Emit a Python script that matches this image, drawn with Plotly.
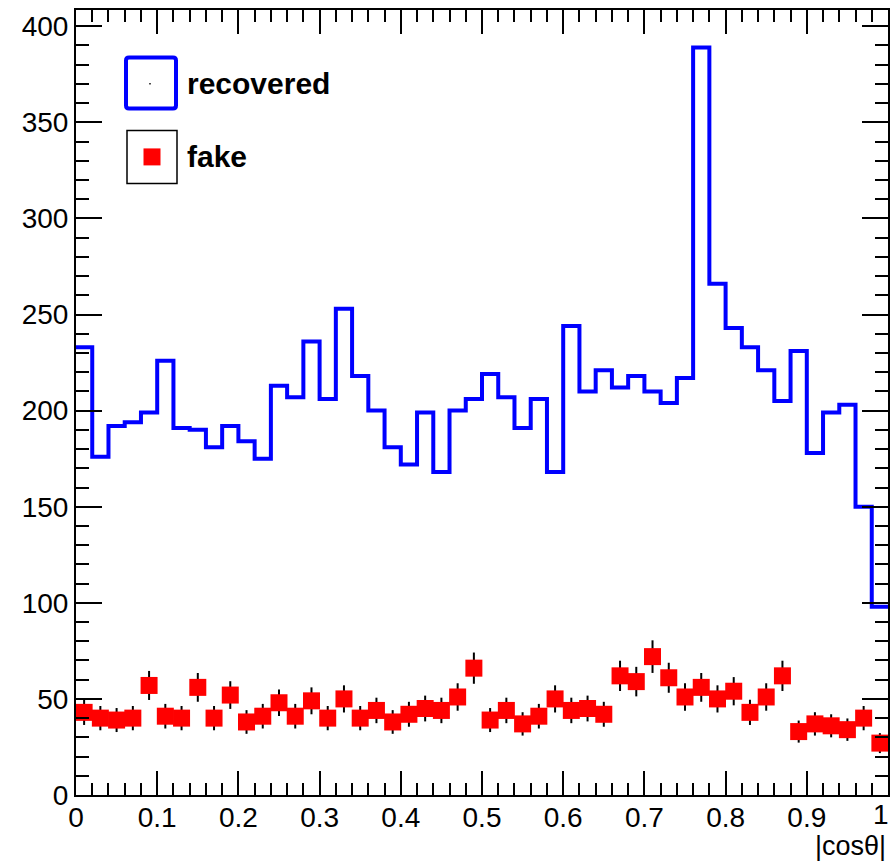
import numpy as np
import plotly.graph_objects as go

# 50 bins from 0 to 1
bin_lo = 0.0
bin_hi = 1.0
n_bins = 50

recovered = [233, 176, 192, 194, 199, 226, 191, 190, 181, 192,
             184, 175, 213, 207, 236, 206, 253, 218, 200, 181,
             172, 199, 168, 200, 206, 219, 207, 191, 206, 168,
             244, 210, 221, 212, 218, 210, 204, 217, 389, 266,
             243, 233, 221, 205, 231, 178, 199, 203, 150, 98]

fake = [43, 40, 39, 40, 57, 41, 40, 56, 40, 52,
        38, 41, 48, 41, 49, 40, 50, 40, 44, 38,
        42, 45, 44, 51, 66, 39, 44, 37, 41, 50,
        44, 45, 42, 62, 59, 72, 61, 51, 56, 50,
        54, 43, 51, 62, 33, 37, 36, 34, 40, 27]

x_ticks = [0, 0.1, 0.2, 0.3, 0.4, 0.5, 0.6, 0.7, 0.8, 0.9, 1]
x_tick_labels = ["0", "0.1", "0.2", "0.3", "0.4", "0.5", "0.6", "0.7", "0.8", "0.9", "1"]
y_ticks = [0, 50, 100, 150, 200, 250, 300, 350, 400]
y_tick_labels = [str(v) for v in y_ticks]

edges = np.linspace(bin_lo, bin_hi, n_bins + 1)
centers = 0.5 * (edges[:-1] + edges[1:])
rec_arr = np.array(recovered, dtype=float)
fake_arr = np.array(fake, dtype=float)

ymax = 1.05 * rec_arr.max()

FONT = "Liberation Sans, Arial, Helvetica, sans-serif"

fig = go.Figure()

fig.add_trace(go.Scatter(
    x=edges, y=np.append(rec_arr, rec_arr[-1]),
    mode="lines", line=dict(color="#0000ff", width=4, shape="hv"),
    showlegend=False, name="recovered"))

fig.add_trace(go.Scatter(
    x=centers, y=fake_arr, mode="markers",
    marker=dict(symbol="square", size=17, color="#ff0000", line=dict(width=0)),
    error_y=dict(type="data", array=np.sqrt(fake_arr), color="black", thickness=2, width=0),
    showlegend=False, name="fake"))

# plot area geometry (pixels) used to place the hand-drawn legend
L, R, T, B = 76, 888, 9.5, 795
W, H = 891, 861
pw, ph = R - L, B - T

def px(x):
    return (x - L) / pw

def py(y):
    return (B - y) / ph

shapes = [
    dict(type="path", xref="paper", yref="paper",
         path=(f"M {px(129)},{py(57)} L {px(173)},{py(57)} Q {px(176)},{py(57)} {px(176)},{py(60)} "
               f"L {px(176)},{py(105)} Q {px(176)},{py(108)} {px(173)},{py(108)} "
               f"L {px(129)},{py(108)} Q {px(126)},{py(108)} {px(126)},{py(105)} "
               f"L {px(126)},{py(60)} Q {px(126)},{py(57)} {px(129)},{py(57)} Z"),
         line=dict(color="#0000ff", width=4), fillcolor="rgba(0,0,0,0)"),
    dict(type="rect", xref="paper", yref="paper",
         x0=px(149.3), x1=px(150.7), y0=py(84), y1=py(82.6),
         line=dict(width=0), fillcolor="black"),
    dict(type="rect", xref="paper", yref="paper",
         x0=px(127), x1=px(177), y0=py(183), y1=py(130),
         line=dict(color="black", width=1.5), fillcolor="rgba(0,0,0,0)"),
    dict(type="rect", xref="paper", yref="paper",
         x0=px(143.5), x1=px(160.5), y0=py(165), y1=py(148),
         line=dict(width=0), fillcolor="#ff0000"),
]

annotations = [
    dict(text="<b>recovered</b>", xref="paper", yref="paper", x=px(185), y=py(83),
         xanchor="left", yanchor="middle", showarrow=False,
         font=dict(family=FONT, size=30, color="black")),
    dict(text="<b>fake</b>", xref="paper", yref="paper", x=px(185), y=py(156),
         xanchor="left", yanchor="middle", showarrow=False,
         font=dict(family=FONT, size=30, color="black")),
    dict(text="|cosθ|", xref="paper", yref="paper", x=1.0, y=py(846),
         xanchor="right", yanchor="middle", showarrow=False,
         font=dict(family=FONT, size=27, color="black")),
    # last x tick label, kept inside the page edge
    dict(text=x_tick_labels[-1], xref="x", yref="paper", x=x_ticks[-1], y=py(815),
         xanchor="right", yanchor="middle", showarrow=False, xshift=3,
         font=dict(family=FONT, size=28, color="black")),
]

fig.update_layout(
    width=W, height=H,
    margin=dict(l=L, r=W - R, t=T, b=H - B, autoexpand=False),
    paper_bgcolor="white", plot_bgcolor="white",
    font=dict(family=FONT, size=28, color="black"),
    shapes=shapes, annotations=annotations,
    showlegend=False,
)

fig.update_xaxes(
    range=[bin_lo, bin_hi], tickmode="array", tickvals=x_ticks,
    ticktext=x_tick_labels[:-1] + [""],
    ticks="inside", ticklen=24, tickwidth=2, tickcolor="black",
    minor=dict(dtick=0.02, ticks="inside", ticklen=12, tickwidth=2, tickcolor="black"),
    showline=True, linecolor="black", linewidth=2, mirror="allticks",
    showgrid=False, zeroline=False, ticklabeloverflow="allow", automargin=False,
    ticklabelstandoff=-4,
    tickfont=dict(family=FONT, size=28, color="black"),
)
fig.update_yaxes(
    range=[0, ymax], tickmode="array", tickvals=y_ticks, ticktext=y_tick_labels,
    ticks="inside", ticklen=26, tickwidth=2, tickcolor="black",
    minor=dict(dtick=10, ticks="inside", ticklen=13, tickwidth=2, tickcolor="black"),
    showline=True, linecolor="black", linewidth=2, mirror="allticks",
    showgrid=False, zeroline=False, automargin=False,
    tickfont=dict(family=FONT, size=28, color="black"),
)

fig.write_html("out.html")
